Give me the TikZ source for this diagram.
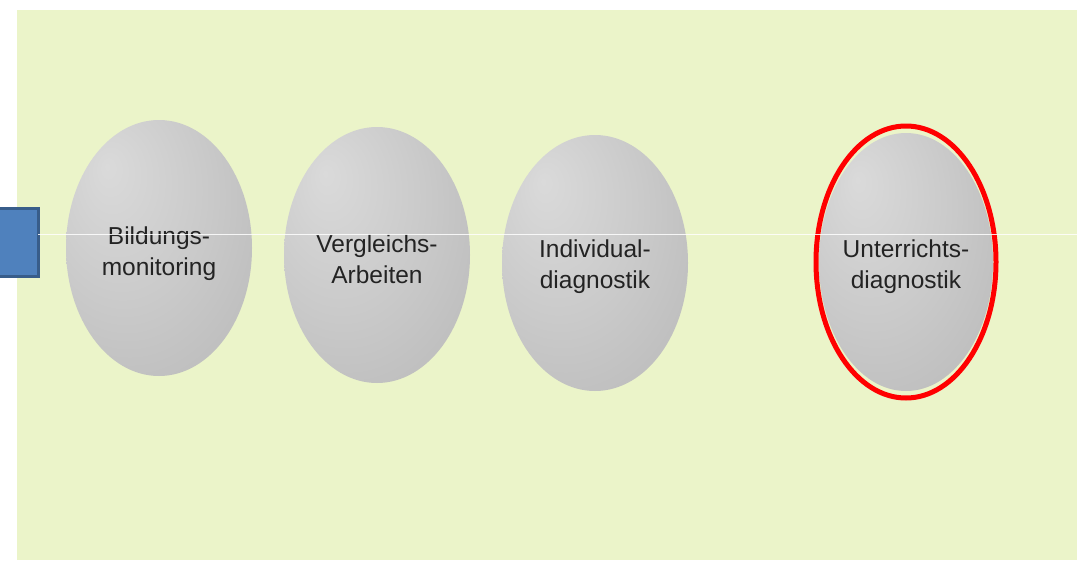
\documentclass[tikz,border=0pt]{standalone}
\usepackage{fontspec}
\setmainfont{Liberation Sans}
\usetikzlibrary{shapes.geometric}
\definecolor{bggreen}{RGB}{235,244,201}
\definecolor{boxblue}{RGB}{79,129,189}
\definecolor{boxborder}{RGB}{56,93,138}
\definecolor{txtgray}{RGB}{35,35,35}
\definecolor{eggA}{RGB}{218,218,218}
\definecolor{eggB}{RGB}{202,202,202}
\definecolor{eggC}{RGB}{188,188,188}
\definecolor{eggD}{RGB}{150,150,150}
\pgfdeclareradialshading{egg}{\pgfpoint{-14bp}{16bp}}{%
  color(0bp)=(eggA); color(22bp)=(eggB); color(40bp)=(eggC); color(52bp)=(eggD); color(70bp)=(eggD)}
\tikzset{
  egg/.style={ellipse, shading=egg, inner sep=0pt, minimum width=186pt, minimum height=256pt},
  eggtext/.style={align=center, text=txtgray, inner sep=0pt, font=\fontsize{24.5}{31}\selectfont},
  ringred/.style={draw=red, line width=5pt, ellipse, inner sep=0pt, minimum width=180pt, minimum height=272pt},
  bluebox/.style={draw=boxborder, line width=3pt, fill=boxblue, inner sep=0pt, minimum width=44pt, minimum height=68pt},
  guide/.style={draw=white, line width=0.9pt, opacity=0.85}
}
\begin{document}
\begin{tikzpicture}[x=1pt,y=-1pt]
\useasboundingbox (0,0) rectangle (1077,560);
\fill[white] (0,0) rectangle (1077,560);
\fill[bggreen] (17,10) rectangle (1077,560);
\node[bluebox] (b) at (16,242) {};
\node[egg] (e1) at (159,248) {};
\node[egg] (e2) at (377,255) {};
\node[egg] (e3) at (595,263) {};
\node[egg, minimum width=174pt, minimum height=258pt] (e4) at (906,262) {};
\node[eggtext] (t1) at (159,254) {Bildungs-\\monitoring};
\node[eggtext] (t2) at (377,259) {Vergleichs-\\Arbeiten};
\node[eggtext] (t3) at (595,267) {Individual-\\diagnostik};
\node[eggtext] (t4) at (906,267) {Unterrichts-\\diagnostik};
\node[ringred] (r4) at (e4.center) {};
\coordinate (ls) at (38,234);
\coordinate (le) at (1077,234);
\draw[guide] (ls) -- (le);
\end{tikzpicture}
\end{document}
